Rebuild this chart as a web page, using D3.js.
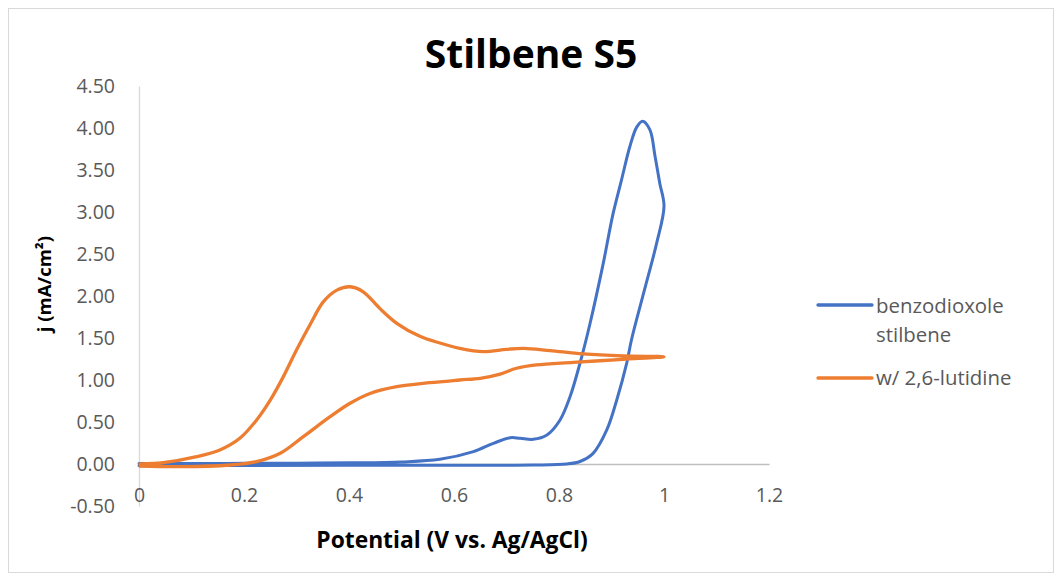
<!DOCTYPE html>
<html><head><meta charset="utf-8">
<script src="https://cdn.jsdelivr.net/npm/d3@7"></script>
<style>body{margin:0;background:#fff;}svg{display:block;}</style>
</head><body>
<svg id="chart" width="1062" height="581"></svg>
<script>
// ---- data ----
const title = "Stilbene S5";
const xLabel = "Potential (V vs. Ag/AgCl)";
const yLabel = "j (mA/cm²)";
const seriesNames = ["benzodioxole stilbene", "w/ 2,6-lutidine"];
const xTicks = [0, 0.2, 0.4, 0.6, 0.8, 1, 1.2];
const yTicks = [-0.5, 0, 0.5, 1, 1.5, 2, 2.5, 3, 3.5, 4, 4.5];

// benzodioxole stilbene: [potential V, j mA/cm2]
const benzoE = [0, 0.1, 0.2, 0.3, 0.4, 0.5, 0.573, 0.637, 0.675, 0.707, 0.726, 0.751, 0.777, 0.802, 0.821, 0.840, 0.859, 0.884, 0.903, 0.919, 0.935, 0.948, 0.959, 0.973, 0.983, 0.992, 1.0,
  0.986, 0.961, 0.938, 0.929, 0.910, 0.891, 0.865, 0.84, 0.815, 0.75, 0.6, 0.4, 0.2, 0.0];
const benzoJ = [0.005, 0.006, 0.008, 0.01, 0.014, 0.025, 0.056, 0.147, 0.246, 0.313, 0.306, 0.294, 0.345, 0.524, 0.80, 1.20, 1.67, 2.38, 2.98, 3.38, 3.78, 4.01, 4.08, 3.98, 3.66, 3.34, 3.07,
  2.63, 2.03, 1.476, 1.20, 0.762, 0.405, 0.127, 0.03, 0.0, -0.012, -0.014, -0.015, -0.017, -0.02];

// w/ 2,6-lutidine
const lutE = [0.002, 0.046, 0.11, 0.154, 0.192, 0.224, 0.25, 0.275, 0.30, 0.326, 0.351, 0.377, 0.402, 0.427, 0.459, 0.491, 0.535, 0.573, 0.611, 0.656, 0.70, 0.732, 0.783, 0.846, 0.922, 1.0,
  0.922, 0.827, 0.757, 0.719, 0.688, 0.65, 0.611, 0.554, 0.491, 0.44, 0.402, 0.364, 0.313, 0.269, 0.224, 0.173, 0.078, 0.002];
const lutJ = [0.0, 0.016, 0.087, 0.167, 0.306, 0.524, 0.76, 1.04, 1.357, 1.66, 1.93, 2.07, 2.11, 2.05, 1.85, 1.675, 1.52, 1.44, 1.377, 1.337, 1.365, 1.377, 1.35, 1.31, 1.286, 1.277,
  1.246, 1.21, 1.18, 1.14, 1.07, 1.02, 1.0, 0.968, 0.92, 0.84, 0.723, 0.563, 0.325, 0.127, 0.028, -0.012, -0.032, -0.024];

const colors = ["#4472C4", "#ED7D31"];

// ---- chart ----
const svg = d3.select("#chart");
svg.append("rect").attr("x", 8.5).attr("y", 8.5).attr("width", 1045).attr("height", 564)
  .attr("fill", "#fff").attr("stroke", "#d9d9d9").attr("stroke-width", 1);

const x = d3.scaleLinear().domain([0, 1.2]).range([139, 769]);
const y = d3.scaleLinear().domain([-0.5, 4.5]).range([506, 86]);

const textCol = "#595959";
const font = "'Open Sans', sans-serif";
const fmtY = v => d3.format(".2f")(v).replace("\u2212", "-");

// y axis
const yAxis = svg.append("g").attr("transform", `translate(${x(0)},0)`)
  .call(d3.axisLeft(y).tickValues(yTicks).tickFormat(fmtY).tickSize(0).tickPadding(24));
yAxis.select(".domain").attr("stroke", "#d9d9d9").attr("stroke-width", 1.3);
yAxis.selectAll("text").attr("fill", textCol).style("font-family", font).style("font-size", "19.5px");

// x axis (line at y=0)
const xAxis = svg.append("g").attr("transform", `translate(0,${y(0)})`)
  .call(d3.axisBottom(x).tickValues(xTicks).tickFormat(d3.format("")).tickSize(0).tickPadding(24));
xAxis.select(".domain").attr("stroke", "#bfbfbf").attr("stroke-width", 1.3);
xAxis.selectAll("text").attr("fill", textCol).style("font-family", font).style("font-size", "19.5px");

// lines
const line = d3.line().x(d => x(d[0])).y(d => y(d[1])).curve(d3.curveCatmullRom.alpha(0.5));
const benzo = benzoE.map((e, i) => [e, benzoJ[i]]);
const lut = lutE.map((e, i) => [e, lutJ[i]]);
svg.append("path").datum(benzo).attr("d", line).attr("fill", "none")
  .attr("stroke", colors[0]).attr("stroke-width", 3).attr("stroke-linejoin", "round").attr("stroke-linecap", "round");
svg.append("path").datum(lut).attr("d", line).attr("fill", "none")
  .attr("stroke", colors[1]).attr("stroke-width", 3.3).attr("stroke-linejoin", "round").attr("stroke-linecap", "round");

// title
svg.append("text").attr("x", 531).attr("y", 68).attr("text-anchor", "middle")
  .style("font-family", font).style("font-weight", "bold").style("font-size", "39px")
  .attr("fill", "#000").text(title);

// axis titles
svg.append("text").attr("x", 452).attr("y", 548).attr("text-anchor", "middle")
  .style("font-family", font).style("font-weight", "bold").style("font-size", "22.8px")
  .attr("fill", "#000").text(xLabel);
svg.append("text").attr("transform", "translate(51,284) rotate(-90)").attr("text-anchor", "middle")
  .style("font-family", font).style("font-weight", "bold").style("font-size", "18.5px")
  .attr("fill", "#000").text(yLabel);

// legend
const legend = [
  {name: ["benzodioxole", "stilbene"], color: colors[0], y: 305, base: 313},
  {name: ["w/ 2,6-lutidine"], color: colors[1], y: 378, base: 385}
];
legend.forEach(l => {
  svg.append("line").attr("x1", 818).attr("x2", 872).attr("y1", l.y).attr("y2", l.y)
    .attr("stroke", l.color).attr("stroke-width", 3.3).attr("stroke-linecap", "round");
  const t = svg.append("text").attr("x", 876).attr("y", l.base)
    .style("font-family", font).style("font-size", "20.4px").attr("fill", textCol);
  l.name.forEach((n, i) => t.append("tspan").attr("x", 876).attr("dy", i === 0 ? 0 : 29).text(n));
});
</script>
</body></html>
